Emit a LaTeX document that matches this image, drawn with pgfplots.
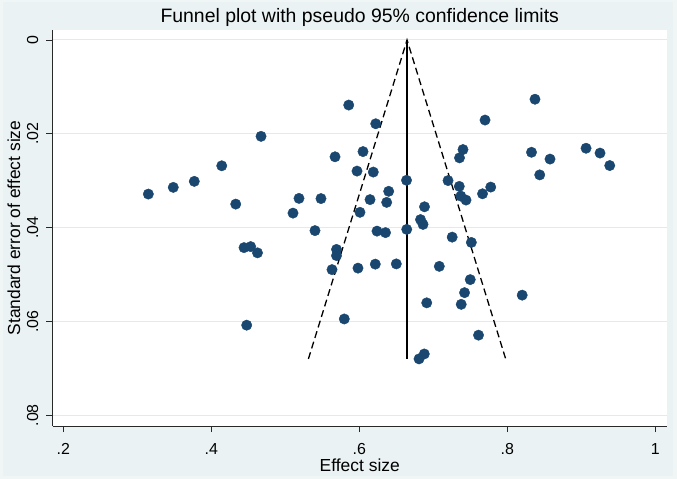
\documentclass[border=0pt]{standalone}
\usepackage{fontspec}
\setmainfont{Liberation Sans}
\usepackage{pgfplots}
\pgfplotsset{compat=1.18}
\definecolor{stnavy}{RGB}{26,71,111}
\definecolor{stbg}{RGB}{234,242,243}
\definecolor{stedge}{RGB}{240,245,246}
\definecolor{stgrid}{RGB}{226,234,236}
\definecolor{staxis}{RGB}{40,40,40}

% effect size and its standard error, one row per study
\pgfplotstableread{
es se
0.3149 0.03285
0.3486 0.03142
0.3770 0.03014
0.4141 0.02682
0.4330 0.03499
0.4672 0.02054
0.5104 0.03691
0.5185 0.03377
0.5482 0.03381
0.5401 0.04064
0.5672 0.02490
0.4442 0.04427
0.4532 0.04405
0.4624 0.04538
0.4478 0.06080
0.5692 0.04465
0.5692 0.04597
0.5631 0.04896
0.5857 0.01387
0.6222 0.01786
0.6050 0.02379
0.5969 0.02795
0.6189 0.02816
0.6638 0.02991
0.6397 0.03226
0.6145 0.03403
0.6370 0.03462
0.6009 0.03674
0.6881 0.03556
0.6827 0.03829
0.6861 0.03932
0.6239 0.04075
0.6354 0.04107
0.6641 0.04038
0.7255 0.04203
0.7514 0.04316
0.7199 0.02997
0.7351 0.03121
0.7372 0.03328
0.7442 0.03413
0.7665 0.03279
0.7776 0.03136
0.7401 0.02336
0.7354 0.02513
0.7699 0.01707
0.8374 0.01263
0.8327 0.02394
0.8577 0.02539
0.8438 0.02876
0.9064 0.02308
0.9253 0.02411
0.9384 0.02677
0.5982 0.04864
0.6216 0.04779
0.6500 0.04774
0.7081 0.04826
0.7499 0.05109
0.7422 0.05387
0.7377 0.05636
0.6911 0.05604
0.5797 0.05948
0.7611 0.06293
0.8201 0.05440
0.6807 0.06799
0.6878 0.06694
}\studies

\begin{document}
\begin{tikzpicture}
% graph region
\fill[stedge] (-52.5bp,-53bp) rectangle (624.5bp,426bp);
\fill[stbg] (-49.5bp,-50bp) rectangle (620.5bp,424bp);
\begin{axis}[
  at={(0,0)}, anchor=south west,
  scale only axis, width=614.5bp, height=396bp,
  xmin=0.1854, xmax=1.0158, ymin=-0.00213, ymax=0.0823,
  y dir=reverse,
  scaled y ticks=false, scaled x ticks=false,
  axis background/.style={fill=white},
  axis x line*=bottom, axis y line*=left,
  axis line style={staxis, line width=0.9bp, -},
  xtick={0.2,0.4,0.6,0.8,1}, xticklabels={.2,.4,.6,.8,1},
  ytick={0,0.02,0.04,0.06,0.08}, yticklabels={0,.02,.04,.06,.08},
  tick align=outside, major tick length=6bp,
  tick style={staxis, line width=0.9bp},
  ymajorgrids, grid style={stgrid, line width=1bp},
  ticklabel style={font=\fontsize{16}{18}\selectfont, inner sep=0pt},
  xticklabel style={anchor=base},
  yticklabel style={rotate=90, anchor=base},
  xticklabel shift=22.5bp,
  yticklabel shift=8.5bp,
  clip=false,
]
% pseudo 95% limits around the pooled estimate
\addplot[black, line width=1.3bp, dash pattern=on 7bp off 4bp]
  coordinates {(0.5312,0.068) (0.6645,0) (0.7978,0.068)};
\addplot[black, line width=1.3bp] coordinates {(0.6645,0) (0.6645,0.068)};
\addplot[only marks, mark=*, mark size=5.2bp, stnavy, mark options={draw=stnavy, fill=stnavy}]
  table[x=es, y=se] {\studies};
\end{axis}
\node[anchor=base, font=\fontsize{19.5}{22}\selectfont] at (307.25bp,403bp)
  {Funnel plot with pseudo 95\% confidence limits};
\node[anchor=base, font=\fontsize{17.5}{20}\selectfont] at (307.25bp,-45.7bp) {Effect size};
\node[anchor=base, rotate=90, font=\fontsize{17.5}{20}\selectfont] at (-32.5bp,198bp)
  {Standard error of effect size};
\pgfresetboundingbox
\useasboundingbox (-52.5bp,-53bp) rectangle (624.5bp,426bp);
\end{tikzpicture}
\end{document}
